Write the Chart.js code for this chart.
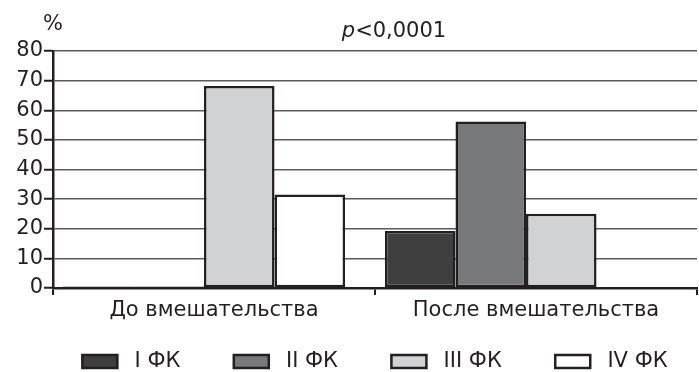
<!DOCTYPE html>
<html>
<head>
<meta charset="utf-8">
<script src="https://cdn.jsdelivr.net/npm/chart.js"></script>
<style>
  html, body { margin: 0; padding: 0; background: #fff; }
  #wrap { width: 699px; height: 372px; }
</style>
</head>
<body>
<div id="wrap"><canvas id="chart"></canvas></div>
<script>
// categories and series
var categories = ['До вмешательства', 'После вмешательства'];
var seriesNames = ['I ФК', 'II ФК', 'III ФК', 'IV ФК'];
var fk1 = [0.5, 19.2];
var fk2 = [0.5, 56.2];
var fk3 = [68.2, 25.1];
var fk4 = [31.6, 0];
var yTicks = [0, 10, 20, 30, 40, 50, 60, 70, 80];
var pText = ['p', '<0,0001'];
var unitText = '%';

var fills = ['#3f3f40', '#78797b', '#d1d2d4', '#ffffff'];
var INK = '#231f20';
var FONT = '"DejaVu Sans", sans-serif';
var FS = 21;

// "%" and p-value headline
var headPlugin = {
  id: 'head',
  afterDraw: function(chart) {
    var ctx = chart.ctx;
    var area = chart.chartArea;
    ctx.save();
    ctx.fillStyle = INK;
    ctx.textBaseline = 'alphabetic';
    ctx.textAlign = 'left';
    ctx.font = FS + 'px ' + FONT;
    ctx.fillText(unitText, area.left - 10, 30);
    ctx.font = 'italic ' + FS + 'px ' + FONT;
    var w1 = ctx.measureText(pText[0]).width;
    ctx.font = FS + 'px ' + FONT;
    var w2 = ctx.measureText(pText[1]).width;
    var cx = (area.left + area.right) / 2 + 19;
    var x0 = cx - (w1 + w2) / 2;
    ctx.font = 'italic ' + FS + 'px ' + FONT;
    ctx.fillText(pText[0], x0, 37);
    ctx.font = FS + 'px ' + FONT;
    ctx.fillText(pText[1], x0 + w1, 37);
    ctx.restore();
  }
};

var datasets = [fk1, fk2, fk3, fk4].map(function(vals, i) {
  return {
    label: seriesNames[i],
    data: vals.map(function(v, k) { return { x: k, y: v }; }),
    xAxisID: 'xb',
    backgroundColor: fills[i],
    borderColor: INK,
    borderWidth: 2.5,
    borderSkipped: false,
    categoryPercentage: 0.876,
    barPercentage: 1.0
  };
});

new Chart(document.getElementById('chart'), {
  type: 'bar',
  data: { labels: categories, datasets: datasets },
  options: {
    responsive: true,
    maintainAspectRatio: false,
    animation: false,
    layout: { padding: { top: 51, right: 2, left: 0, bottom: -10 } },
    plugins: {
      title: { display: false },
      tooltip: { enabled: false },
      legend: {
        position: 'bottom',
        fullSize: false,
        labels: {
          font: { family: FONT, size: FS },
          color: INK,
          boxWidth: 35,
          boxHeight: 13,
          padding: 0,
          generateLabels: function(chart) {
            var n = chart.data.datasets.length;
            return chart.data.datasets.map(function(ds, i) {
              // spaces only widen the gaps between legend entries
              var tail = i < n - 1 ? '        ' : '';
              return {
                text: ' ' + ds.label + tail,
                fillStyle: ds.backgroundColor,
                strokeStyle: INK,
                lineWidth: 2.5,
                fontColor: INK,
                datasetIndex: i
              };
            });
          }
        }
      }
    },
    scales: {
      // visible category axis carrying the labels
      x: {
        type: 'category',
        offset: true,
        afterFit: function(scale) { scale.height = 63; },
        grid: {
          display: true,
          offset: true,
          drawOnChartArea: false,
          drawTicks: true,
          tickLength: 7,
          color: INK,
          lineWidth: 2
        },
        border: { display: true, color: INK, width: 2.5 },
        ticks: {
          font: { family: FONT, size: FS },
          color: INK,
          padding: 3
        }
      },
      // hidden numeric axis the bars are placed on (groups sit a little left of centre)
      xb: {
        type: 'linear',
        display: false,
        offset: false,
        grace: 0,
        bounds: 'data',
        min: -0.469,
        max: 1.531,
        grid: { offset: false },
        afterBuildTicks: function(scale) {
          scale.ticks = categories.map(function(c, k) { return { value: k }; });
        }
      },
      y: {
        min: 0,
        max: 80,
        afterBuildTicks: function(scale) {
          scale.ticks = yTicks.map(function(v) { return { value: v }; });
        },
        afterFit: function(scale) { scale.width = 53; },
        grid: {
          color: '#5a5a5a',
          lineWidth: 1.5,
          tickLength: 9,
          tickColor: INK,
          tickWidth: 2
        },
        border: { display: true, color: INK, width: 2.5 },
        ticks: {
          autoSkip: false,
          stepSize: 10,
          font: { family: FONT, size: FS },
          color: INK,
          padding: 1
        }
      }
    }
  },
  plugins: [headPlugin]
});
</script>
</body>
</html>
